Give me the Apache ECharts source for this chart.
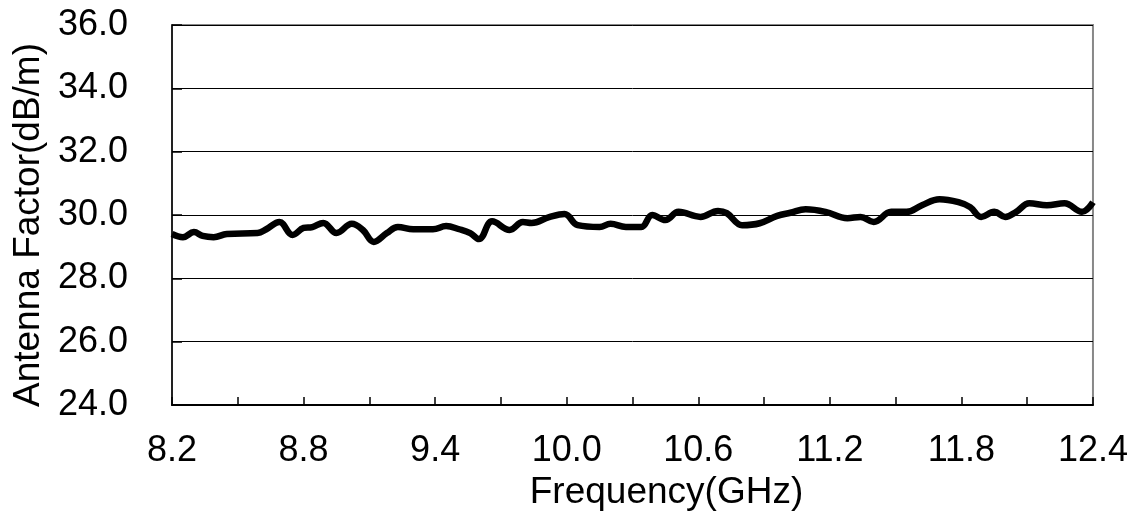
<!DOCTYPE html>
<html>
<head>
<meta charset="utf-8">
<script src="https://cdn.jsdelivr.net/npm/echarts@6/dist/echarts.min.js"></script>
<style>
html,body{margin:0;padding:0;background:#fff;}
#chart{width:1131px;height:525px;}
</style>
</head>
<body>
<div id="chart"></div>
<script>
// Frequency (GHz)
const freqGHz = [8.20,8.25,8.30,8.34,8.39,8.45,8.59,8.63,8.69,8.75,8.80,8.84,8.89,8.95,9.02,9.07,9.12,9.18,9.23,9.30,9.39,9.45,9.51,9.56,9.60,9.66,9.74,9.80,9.84,9.92,9.99,10.05,10.15,10.20,10.27,10.34,10.39,10.45,10.51,10.61,10.69,10.73,10.80,10.88,10.96,11.02,11.09,11.18,11.28,11.34,11.40,11.48,11.55,11.62,11.70,11.79,11.84,11.89,11.95,12.00,12.05,12.11,12.19,12.27,12.35,12.40];
// Antenna factor (dB/m)
const antennaFactor = [29.40,29.30,29.46,29.34,29.30,29.40,29.43,29.55,29.78,29.37,29.59,29.62,29.75,29.43,29.72,29.53,29.15,29.43,29.62,29.55,29.55,29.65,29.55,29.43,29.24,29.80,29.53,29.78,29.75,29.93,30.03,29.68,29.62,29.72,29.62,29.62,30.00,29.84,30.10,29.94,30.13,30.06,29.68,29.74,29.97,30.07,30.18,30.10,29.90,29.94,29.78,30.10,30.10,30.31,30.50,30.40,30.25,29.94,30.10,29.94,30.10,30.37,30.31,30.37,30.10,30.40];
const xStart = 8.2, xEnd = 12.4, xTickStep = 0.3;
const yTicks = [24.0, 26.0, 28.0, 30.0, 32.0, 34.0, 36.0];

const font = '"Liberation Sans", Arial, sans-serif';
const chart = echarts.init(document.getElementById('chart'));
const data = freqGHz.map((f, i) => [f - xStart, antennaFactor[i]]);

chart.setOption({
  animation: false,
  backgroundColor: '#fff',
  grid: {
    left: 172, right: 37, top: 25, bottom: 120,
    show: true, borderColor: '#888', borderWidth: 2, backgroundColor: 'transparent'
  },
  xAxis: {
    type: 'value',
    min: 0, max: xEnd - xStart, interval: xTickStep,
    name: 'Frequency(GHz)', nameLocation: 'middle', nameGap: 56,
    nameTextStyle: { fontFamily: font, fontSize: 37, color: '#000', padding: [0, 0, 0, 68] },
    axisLine: { show: true, lineStyle: { color: '#000', width: 2 } },
    axisTick: { show: true, inside: true, length: 8, lineStyle: { color: '#000', width: 1.5 } },
    axisLabel: {
      fontFamily: font, fontSize: 36, color: '#000', margin: 28,
      formatter: v => (Math.round(v / xTickStep) % 2 === 0) ? (v + xStart).toFixed(1) : ''
    },
    splitLine: { show: false }
  },
  yAxis: {
    type: 'value',
    min: yTicks[0], max: yTicks[yTicks.length - 1], interval: 2,
    name: 'Antenna Factor(dB/m)', nameLocation: 'middle', nameGap: 124,
    nameTextStyle: { fontFamily: font, fontSize: 37, color: '#000', padding: [0, 20, 0, 0] },
    axisLine: { show: true, lineStyle: { color: '#000', width: 1.5 } },
    axisTick: { show: true, inside: true, length: 10, lineStyle: { color: '#000', width: 1.5 } },
    axisLabel: { fontFamily: font, fontSize: 36, color: '#000', margin: 44, formatter: v => v.toFixed(1) },
    splitLine: { show: true, lineStyle: { color: '#000', width: 1 } }
  },
  series: [{
    type: 'line',
    data: data,
    smooth: 0.4,
    symbol: 'none',
    lineStyle: { color: '#000', width: 6.5 }
  }]
});
</script>
</body>
</html>
